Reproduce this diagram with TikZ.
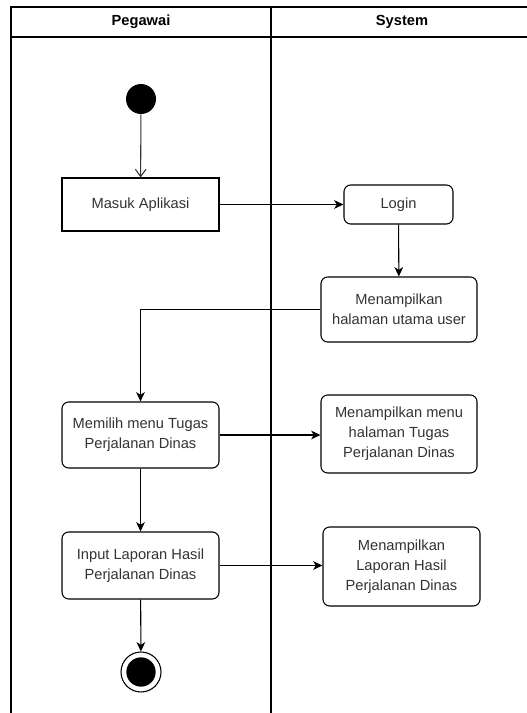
\documentclass[tikz,border=0pt]{standalone}
\usepackage{fontspec}
\setmainfont{Liberation Sans}
\usepackage{tikz}
\usetikzlibrary{positioning,arrows.meta,calc}
\definecolor{ink}{HTML}{333333}

\begin{document}
\begin{tikzpicture}[
    x=0.75pt, y=-0.75pt,
    lane/.style={draw=black, line width=0.9pt},
    head/.style={font=\fontsize{11}{13}\selectfont\bfseries, text=black},
    block/.style={draw=black, line width=0.8pt, fill=white, align=center, inner sep=0pt, text=ink, font=\fontsize{11}{15}\selectfont},
    action/.style={block, rounded corners=5pt},
    start/.style={circle, fill=black, minimum size=22.5pt, inner sep=0pt},
    final/.style={circle, draw=black, line width=0.8pt, fill=white, minimum size=30pt, inner sep=0pt,
        path picture={\fill[black] (path picture bounding box.center) circle (11pt);}},
    arr/.style={-{Stealth[length=7pt, width=6.5pt, inset=2pt]}, line width=0.8pt, draw=black},
    open/.style={-{Straight Barb[length=5.5pt, width=8pt]}, line width=0.8pt, draw=black!80}
]
    \useasboundingbox (0,0) rectangle (527,713);

    % Swimlanes
    \draw[lane] (527,7) -- (11,7) -- (11,713);
    \draw[lane] (11,37) -- (527,37);
    \draw[lane] (271,7) -- (271,713);
    \node[head] (pegawai) at (141,22) {Pegawai};
    \node[head] (system) at (402,22) {System};

    % Pegawai lane
    \node[start] (init) at (141,99) {};
    \node[block, minimum width=117.75pt, minimum height=39.75pt] (masuk) at (140.5,204.5) {Masuk Aplikasi};
    \node[action, minimum width=117.75pt, minimum height=49.5pt] (memilih) at (140.5,435) {Memilih menu Tugas\\Perjalanan Dinas};
    \node[action, minimum width=117.75pt, minimum height=50.25pt] (input) at (140.5,565.5) {Input Laporan Hasil\\Perjalanan Dinas};
    \node[final] (end) at (141,672) {};

    % System lane
    \node[action, minimum width=81.75pt, minimum height=29.25pt] (login) at (398.5,204.5) {Login};
    \node[action, minimum width=117pt, minimum height=48.75pt] (utama) at (399,309.5) {Menampilkan\\halaman utama user};
    \node[action, minimum width=117pt, minimum height=58.5pt] (menu) at (399,434) {Menampilkan menu\\halaman Tugas\\Perjalanan Dinas};
    \node[action, minimum width=117.75pt, minimum height=59.25pt] (laporan) at (401.5,566.5) {Menampilkan\\Laporan Hasil\\Perjalanan Dinas};

    % Connections
    \draw[open] (init) -- (masuk);
    \draw[arr] (masuk) -- (login);
    \draw[arr] (login) -- (utama);
    \draw[arr] (utama.west) -| (memilih.north);
    \draw[arr] (memilih) -- (memilih -| menu.west);
    \draw[arr] (memilih) -- (input);
    \draw[arr] (input) -- (input -| laporan.west);
    \draw[arr] (input) -- (end);
\end{tikzpicture}
\end{document}
